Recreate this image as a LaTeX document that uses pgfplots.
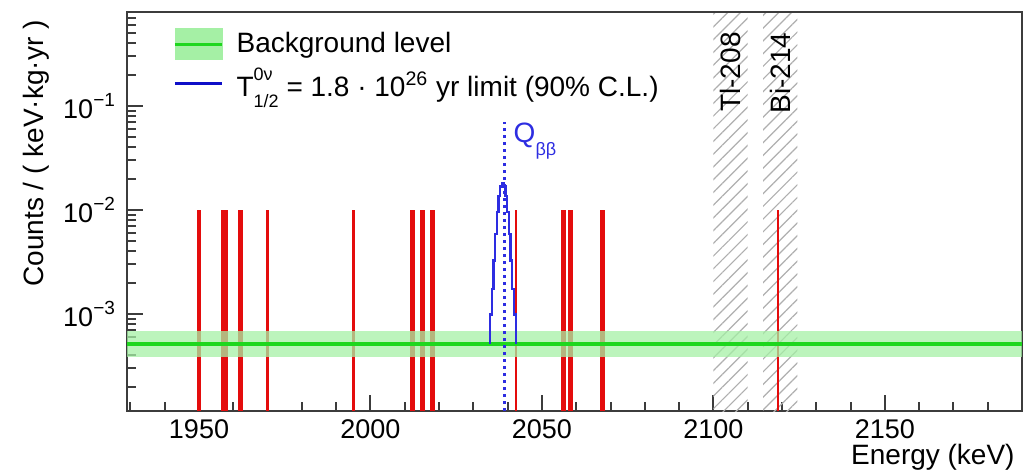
\documentclass[border=0pt]{standalone}
\usepackage{fontspec}
\setmainfont{Liberation Sans}
\usepackage{pgfplots}
\pgfplotsset{compat=1.18}
\usetikzlibrary{patterns.meta}
\definecolor{evred}{RGB}{228,12,12}
\definecolor{bggreen}{RGB}{30,215,30}
\definecolor{bandgreen}{RGB}{165,240,165}
\definecolor{sigblue}{RGB}{45,45,225}
\definecolor{legblue}{RGB}{15,15,200}
\definecolor{framegray}{RGB}{60,60,60}
\definecolor{hatchgray}{RGB}{175,175,175}
\newcommand{\tsup}[1]{\raisebox{0.85ex}{\fontsize{9.5}{10}\selectfont #1}}
\begin{document}
\begin{tikzpicture}
\path[use as bounding box] (-63.5pt,-31pt) rectangle (448pt,205.5pt);
\begin{axis}[
  name=ax,
  at={(0,0)}, anchor=south west,
  scale only axis, width=447.5pt, height=199.5pt,
  clip mode=individual,
  enlargelimits=false,
  xmin=1929, xmax=2190, ymode=log, ymin=1.167e-4, ymax=0.8,
  axis line style={framegray, line width=1.2pt},
  xtick={1950,2000,2050,2100,2150},
  xticklabels={1950,2000,2050,2100,2150},
  minor xtick={1930,1940,...,2190},
  ytick={1e-3,1e-2,1e-1},
  yticklabels={10\tsup{−3},10\tsup{−2},10\tsup{−1}},
  minor ytick={2e-4,3e-4,4e-4,5e-4,6e-4,7e-4,8e-4,9e-4,2e-3,3e-3,4e-3,5e-3,6e-3,7e-3,8e-3,9e-3,2e-2,3e-2,4e-2,5e-2,6e-2,7e-2,8e-2,9e-2,2e-1,3e-1,4e-1,5e-1,6e-1,7e-1,8e-1},
  xtick pos=left, ytick pos=left, tick align=inside,
  major tick length=8pt, minor tick length=4.5pt,
  tick style={draw=framegray, line width=1pt},
  xticklabel style={font=\fontsize{13.5}{15}\selectfont, yshift=-1pt},
  yticklabel style={font=\fontsize{13.5}{15}\selectfont, xshift=-2.5pt},
  legend style={at={(rel axis cs:0,1)}, anchor=north west, xshift=20pt, yshift=-6pt,
    draw=none, fill=none, font=\fontsize{14}{16}\selectfont, row sep=2.5pt, column sep=5pt,
    nodes={inner sep=1.5pt}},
  legend cell align=left,
]
\addlegendimage{legend image code/.code={\fill[bandgreen] (0pt,-7.75pt) rectangle (23.5pt,7.75pt); \draw[bggreen,line width=1.6pt] (0pt,0pt)--(23.5pt,0pt);}}
\addlegendentry{Background level}
\addlegendimage{legend image code/.code={\draw[legblue,line width=1.6pt] (0pt,0pt)--(23.5pt,0pt);}}
\addlegendentry{T\rlap{\raisebox{1.05ex}{\fontsize{9}{10}\selectfont 0ν}}\raisebox{-0.75ex}{\fontsize{9}{10}\selectfont 1/2} = 1.8 · 10\textsuperscript{26} yr limit (90\% C.L.)}

% excluded regions
\addplot[draw=none, pattern={Lines[angle=45,distance=4.5pt,line width=0.6pt]}, pattern color=hatchgray, forget plot]
  coordinates {(2100,1.167e-4) (2100,0.8) (2110,0.8) (2110,1.167e-4)} -- cycle;
\addplot[draw=none, pattern={Lines[angle=45,distance=4.5pt,line width=0.6pt]}, pattern color=hatchgray, forget plot]
  coordinates {(2114.5,1.167e-4) (2114.5,0.8) (2124.5,0.8) (2124.5,1.167e-4)} -- cycle;

% events (thick)
\pgfplotsinvokeforeach{1950.0,1962.0,2012.2,2015.1,2018.0,2056.2,2058.4,2067.7}{
  \addplot[evred, line width=2.4pt, forget plot] coordinates {(#1,1.167e-4) (#1,0.01)};
}
\addplot[evred, line width=3.2pt, forget plot] coordinates {(1957.4,1.167e-4) (1957.4,0.01)};
% events (thin)
\pgfplotsinvokeforeach{1970.0,1995.0,2042.4,2118.8}{
  \addplot[evred, line width=1.2pt, forget plot] coordinates {(#1,1.167e-4) (#1,0.01)};
}

% background band and level
\addplot[draw=none, fill=bandgreen, fill opacity=0.75, forget plot]
  coordinates {(1929,3.9e-4) (2190,3.9e-4) (2190,6.8e-4) (1929,6.8e-4)} -- cycle;
\addplot[bggreen, line width=2pt, forget plot] coordinates {(1929,5.2e-4) (2190,5.2e-4)};

% signal limit
\addplot[sigblue, line width=1.1pt, const plot mark left, forget plot] coordinates {
 (2034.85,5.2e-4) (2034.85,0.000987) (2035.35,0.00174) (2035.85,0.00327) (2036.35,0.00588)
 (2036.85,0.00951) (2037.35,0.01354) (2037.85,0.01678) (2038.35,0.0180) (2038.85,0.01678)
 (2039.35,0.01354) (2039.85,0.00951) (2040.35,0.00588) (2040.85,0.00327) (2041.35,0.00174)
 (2041.85,0.000987) (2042.35,5.2e-4)};
% Q value line
\addplot[sigblue, line width=1.3pt, dash pattern=on 1.3pt off 2.2pt, forget plot]
  coordinates {(2039.1,1.167e-4) (2039.1,0.07)};

\node[text=sigblue, anchor=west, font=\fontsize{14}{16}\selectfont, inner sep=0pt, xshift=2pt, yshift=-3pt]
  at (axis cs:2040.5,0.0526) {Q\raisebox{-0.9ex}{\fontsize{9}{10}\selectfont ββ}};
\node[yshift=-10pt, rotate=90, anchor=east, font=\fontsize{14}{16}\selectfont, inner sep=0pt]
  at (axis cs:2105,0.8) {Tl-208};
\node[yshift=-10pt, rotate=90, anchor=east, font=\fontsize{14}{16}\selectfont, inner sep=0pt]
  at (axis cs:2119.5,0.8) {Bi-214};

\node[xshift=-45.5pt, yshift=-4pt, rotate=90, anchor=east, font=\fontsize{14}{16}\selectfont, inner sep=0pt]
  at (rel axis cs:0,1) {Counts / ( keV·kg·yr )};
\node[xshift=-3.5pt, yshift=-23pt, anchor=east, font=\fontsize{14}{16}\selectfont, inner sep=0pt]
  at (rel axis cs:1,0) {Energy (keV)};
\end{axis}
\fill[framegray] ([yshift=-0.6pt]ax.north west) rectangle ([yshift=0.6pt]ax.north east);
\end{tikzpicture}
\end{document}
